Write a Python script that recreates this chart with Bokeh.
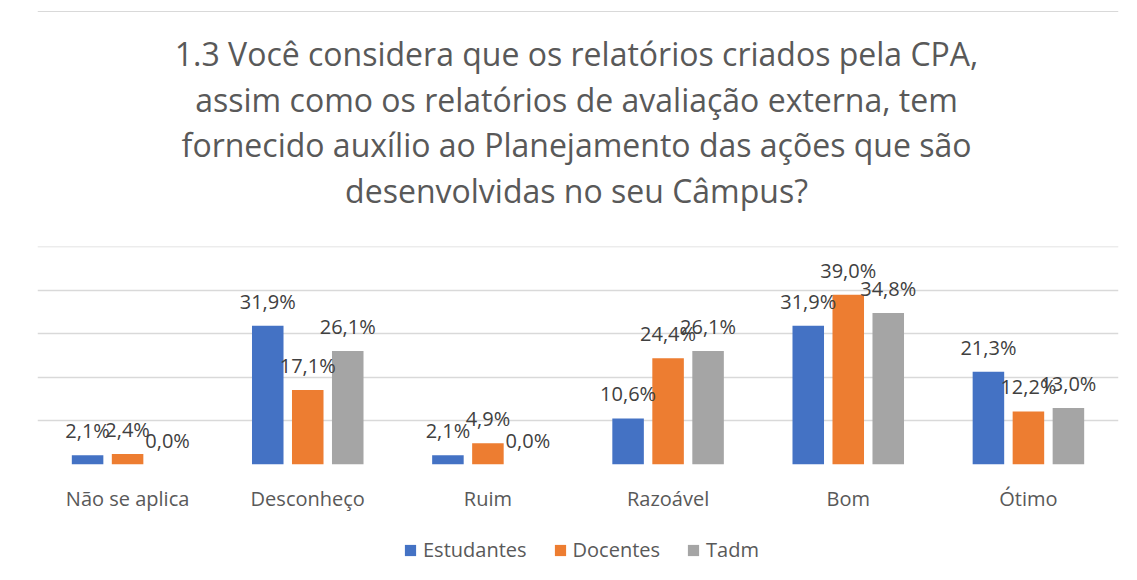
from bokeh.plotting import figure
from bokeh.layouts import column
from bokeh.models import (ColumnDataSource, Range1d, FactorRange, FixedTicker, Legend,
                          LegendItem, LabelSet, Label, Span)
from bokeh.core.properties import value
from bokeh.transform import dodge
from bokeh.embed import file_html
from bokeh.resources import INLINE

categories = ["Não se aplica", "Desconheço", "Ruim", "Razoável", "Bom", "Ótimo"]
series_names = ["Estudantes", "Docentes", "Tadm"]
estudantes = [2.1, 31.9, 2.1, 10.6, 31.9, 21.3]
docentes = [2.4, 17.1, 4.9, 24.4, 39.0, 12.2]
tadm = [0.0, 26.1, 0.0, 26.1, 34.8, 13.0]
colors = ["#4472C4", "#ED7D31", "#A5A5A5"]
y_ticks = [0, 10, 20, 30, 40, 50]
title_lines = [
    "1.3 Você considera que os relatórios criados pela CPA,",
    "assim como os relatórios de avaliação externa, tem",
    "fornecido auxílio ao Planejamento das ações que são",
    "desenvolvidas no seu Câmpus?",
]

def fmt(v):
    return f"{v:.1f}%".replace(".", ",")

data = {"cat": categories}
for name, vals in zip(series_names, [estudantes, docentes, tadm]):
    data[name] = vals
    data[name + "_lbl"] = [fmt(v) for v in vals]
source = ColumnDataSource(data)

FONT = "Open Sans"
W = 1121

# ---- title strip (pixel coordinates) ----
TH = 236
tf = figure(width=W, height=TH, x_range=Range1d(0, W), y_range=Range1d(0, TH),
            output_backend="svg", toolbar_location=None, min_border=0)
tf.axis.visible = False
tf.grid.visible = False
tf.outline_line_color = None
tf.add_layout(Span(location=TH - 11, dimension="width", line_color="#D9D9D9", line_width=1))
line_gap = 45.7
first_baseline = 53
for i, line in enumerate(title_lines):
    tf.add_layout(Label(x=559, y=TH - (first_baseline + i * line_gap), text=line,
                        text_align="center", text_baseline="alphabetic",
                        text_font=FONT, text_font_size="32px", text_color="#595959"))

# ---- main chart ----
p = figure(width=W, height=283, x_range=FactorRange(*categories), y_range=Range1d(0, 50.1),
           output_backend="svg", toolbar_location=None,
           min_border_left=37, min_border_right=3, min_border_top=10, min_border_bottom=55)
p.outline_line_color = None
p.background_fill_color = "white"
p.border_fill_color = "white"
p.yaxis.visible = False
p.xgrid.grid_line_color = None
p.ygrid.ticker = FixedTicker(ticks=y_ticks)
p.ygrid.grid_line_color = "#D9D9D9"
p.ygrid.grid_line_width = 1.5

xa = p.xaxis[0]
xa.axis_line_color = None
xa.major_tick_line_color = None
xa.minor_tick_line_color = None
xa.major_label_text_font = FONT
xa.major_label_text_font_size = "20px"
xa.major_label_text_color = "#595959"
xa.major_label_standoff = 14

offsets = [-0.222, 0.0, 0.222]
for name, off, col in zip(series_names, offsets, colors):
    p.vbar(x=dodge("cat", off, range=p.x_range), top=name, width=0.175, bottom=0,
           source=source, fill_color=col, line_color=None)
    lbl = LabelSet(x=dodge("cat", off, range=p.x_range), y=name, text=name + "_lbl",
                   source=source, text_align="center", text_baseline="alphabetic",
                   y_offset=17, text_font=value(FONT), text_font_size="20px",
                   text_color="#404040")
    p.add_layout(lbl)

# ---- legend strip ----
lg = figure(width=W, height=56, x_range=FactorRange(*categories), y_range=Range1d(1000, 1001),
            output_backend="svg", toolbar_location=None, min_border=0)
lg.axis.visible = False
lg.grid.visible = False
lg.outline_line_color = None
items = []
for name, col in zip(series_names, colors):
    r = lg.vbar(x="cat", top=name, width=0.175, source=source, fill_color=col, line_color=None)
    items.append(LegendItem(label=name, renderers=[r]))
legend = Legend(items=items, orientation="horizontal", location=(366, 12),
                label_text_font=FONT, label_text_font_size="20px", label_text_color="#595959",
                glyph_width=14, glyph_height=14, spacing=26, label_standoff=6,
                border_line_color=None, background_fill_alpha=0, padding=4, margin=0)
lg.add_layout(legend)

layout = column(tf, p, lg, spacing=0)
open("out.html", "w").write(file_html(layout, INLINE))
